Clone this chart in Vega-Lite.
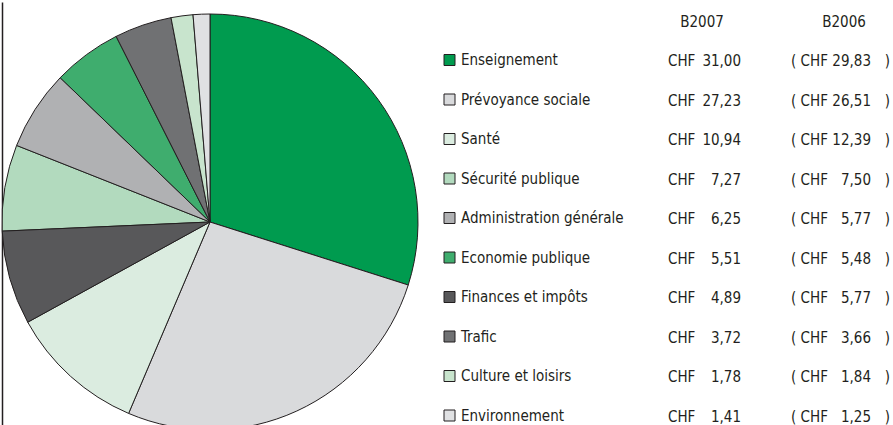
{
  "$schema": "https://vega.github.io/schema/vega-lite/v6.json",
  "padding": {"left": 0, "top": 0, "right": 0, "bottom": 0},
  "autosize": {"type": "pad"},
  "background": "white",
  "spacing": 242,
  "config": {
    "view": {"stroke": null},
    "font": "DejaVu Sans Condensed, sans-serif",
    "locale": {"number": {"decimal": ",", "thousands": "'", "grouping": [3], "currency": ["CHF ", ""]}},
    "text": {"font": "DejaVu Sans Condensed, sans-serif", "fontSize": 15, "color": "#231f20", "baseline": "middle"}
  },
  "data": {
    "values": [
      {"categorie": "Enseignement", "b2007": 31.00, "b2006": 29.83, "part": 29.9},
      {"categorie": "Prévoyance sociale", "b2007": 27.23, "b2006": 26.51, "part": 26.5},
      {"categorie": "Santé", "b2007": 10.94, "b2006": 12.39, "part": 10.6},
      {"categorie": "Sécurité publique", "b2007": 7.27, "b2006": 7.50, "part": 6.7},
      {"categorie": "Administration générale", "b2007": 6.25, "b2006": 5.77, "part": 6.2},
      {"categorie": "Economie publique", "b2007": 5.51, "b2006": 5.48, "part": 5.35},
      {"categorie": "Finances et impôts", "b2007": 4.89, "b2006": 5.77, "part": 7.3},
      {"categorie": "Trafic", "b2007": 3.72, "b2006": 3.66, "part": 4.45},
      {"categorie": "Culture et loisirs", "b2007": 1.78, "b2006": 1.84, "part": 1.7},
      {"categorie": "Environnement", "b2007": 1.41, "b2006": 1.25, "part": 1.3}
    ]
  },
  "hconcat": [
    {
      "width": 416,
      "height": 440,
      "layer": [
        {
          "mark": {"type": "arc", "radius": 208, "stroke": "#231f20", "strokeWidth": 1},
          "encoding": {
            "theta": {"field": "part", "type": "quantitative", "stack": true},
            "order": {"field": "part", "sort": "descending"},
            "color": {
              "field": "categorie",
              "type": "nominal",
              "scale": {
                "domain": ["Enseignement", "Prévoyance sociale", "Santé", "Sécurité publique", "Administration générale", "Economie publique", "Finances et impôts", "Trafic", "Culture et loisirs", "Environnement"],
                "range": ["#009b4f", "#d9dadc", "#dbece0", "#b2dabe", "#b0b1b3", "#3fad6e", "#58585a", "#707173", "#c8e4cd", "#e0e1e3"]
              },
              "legend": {
                "orient": "none",
                "legendX": 440,
                "legendY": 50.5,
                "title": null,
                "symbolType": "square",
                "symbolSize": 121,
                "symbolStrokeColor": "#231f20",
                "symbolStrokeWidth": 1,
                "symbolOpacity": 1,
                "labelFont": "DejaVu Sans Condensed, sans-serif",
                "labelFontSize": 15,
                "labelColor": "#231f20",
                "labelOffset": 4,
                "labelLimit": 0,
                "rowPadding": 23.5
              }
            }
          }
        },
        {
          "mark": {"type": "point", "opacity": 0},
          "encoding": {
            "y": {
              "field": "part",
              "type": "quantitative",
              "axis": {"domain": true, "domainColor": "#231f20", "domainWidth": 1.5, "ticks": false, "labels": false, "grid": false, "title": null}
            }
          }
        }
      ]
    },
    {
      "width": 222,
      "height": 434.5,
      "encoding": {
        "y": {
          "field": "categorie",
          "type": "nominal",
          "axis": null,
          "scale": {
            "domain": ["en-tête", "Enseignement", "Prévoyance sociale", "Santé", "Sécurité publique", "Administration générale", "Economie publique", "Finances et impôts", "Trafic", "Culture et loisirs", "Environnement"],
            "paddingInner": 0,
            "paddingOuter": 0
          }
        }
      },
      "layer": [
        {
          "data": {"values": [{"colonne": "B2007"}, {"colonne": "B2006"}]},
          "mark": {"type": "text", "align": "center"},
          "encoding": {
            "x": {
              "field": "colonne",
              "type": "nominal",
              "scale": {"type": "point", "domain": ["B2007", "B2006"], "padding": 0.2817},
              "axis": null
            },
            "y": {"datum": "en-tête", "type": "nominal"},
            "text": {"field": "colonne", "type": "nominal"}
          }
        },
        {
          "mark": {"type": "text", "align": "left", "dx": -34},
          "encoding": {
            "x": {"datum": "B2007", "type": "nominal"},
            "text": {"value": "CHF"}
          }
        },
        {
          "mark": {"type": "text", "align": "right", "dx": 39},
          "encoding": {
            "x": {"datum": "B2007", "type": "nominal"},
            "text": {"field": "b2007", "type": "quantitative", "format": ".2f"}
          }
        },
        {
          "mark": {"type": "text", "align": "left", "dx": -53},
          "encoding": {
            "x": {"datum": "B2006", "type": "nominal"},
            "text": {"value": "( CHF"}
          }
        },
        {
          "mark": {"type": "text", "align": "right", "dx": 27},
          "encoding": {
            "x": {"datum": "B2006", "type": "nominal"},
            "text": {"field": "b2006", "type": "quantitative", "format": ".2f"}
          }
        },
        {
          "mark": {"type": "text", "align": "right", "dx": 46},
          "encoding": {
            "x": {"datum": "B2006", "type": "nominal"},
            "text": {"value": ")"}
          }
        }
      ]
    }
  ]
}
